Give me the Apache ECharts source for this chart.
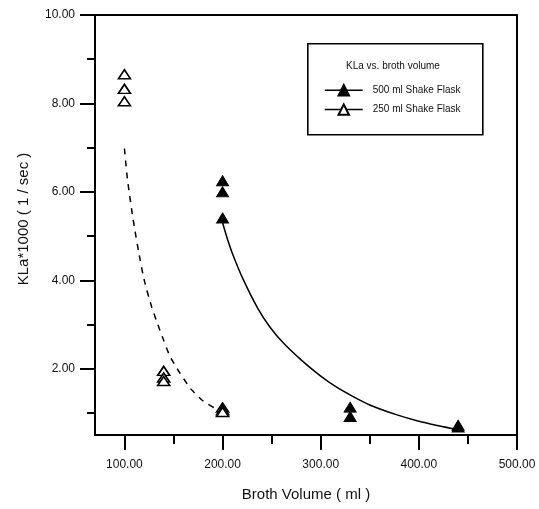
<!DOCTYPE html>
<html>
<head>
<meta charset="utf-8">
<script src="https://cdn.jsdelivr.net/npm/echarts@6/dist/echarts.min.js"></script>
<style>
html,body{margin:0;padding:0;background:#fff;}
#chart{width:539px;height:509px;}
</style>
</head>
<body>
<div id="chart"></div>
<script>
// Measured points
const flask500X = [200, 200, 200, 330, 330, 440, 440];
const flask500Y = [6.25, 6.00, 5.41, 1.13, 0.92, 0.72, 0.68];
const flask250X = [100, 100, 100, 140, 140, 140, 200, 200, 200];
const flask250Y = [8.66, 8.33, 8.05, 1.95, 1.80, 1.72, 1.12, 1.06, 1.02];

// Fitted curves
const fit500X = [200, 205, 211, 221, 236, 248, 262, 280, 299, 315, 333, 350, 377, 400, 420, 440];
const fit500Y = [5.30, 4.93, 4.55, 4.02, 3.36, 2.95, 2.58, 2.20, 1.85, 1.60, 1.37, 1.18, 0.96, 0.81, 0.71, 0.62];
const fit250X = [100, 103, 108, 110, 115, 120, 127, 134, 139, 146, 151, 156, 165, 169, 178, 182, 192, 200];
const fit250Y = [6.98, 6.30, 5.50, 5.22, 4.58, 4.02, 3.45, 3.00, 2.70, 2.30, 2.10, 1.92, 1.62, 1.51, 1.31, 1.24, 1.11, 1.05];

// Axis ticks
const xMajorTicks = [100, 200, 300, 400, 500];
const xMinorTicks = [150, 250, 350, 450];
const yMajorTicks = [2, 4, 6, 8, 10];
const yMinorTicks = [1, 3, 5, 7, 9];

const seriesNames = ['500 ml Shake Flask', '250 ml Shake Flask'];
const legendTitle = 'KLa vs. broth volume';
const xTitle = 'Broth Volume ( ml )';
const yTitle = 'KLa*1000 ( 1 / sec )';

const zip = (xs, ys) => xs.map((x, i) => [x, ys[i]]);
const FONT = '"Liberation Sans", Arial, sans-serif';

const chart = echarts.init(document.getElementById('chart'), null, {renderer: 'canvas'});
const axisLine = {show: true, lineStyle: {color: '#000', width: 2}};
const fmt = v => v.toFixed(2);

chart.setOption({
  animation: false,
  backgroundColor: '#fff',
  grid: {left: 95, right: 22, top: 15, bottom: 74, show: true, borderColor: '#000', borderWidth: 2, backgroundColor: 'transparent'},
  xAxis: [{
    type: 'value', min: 70, max: 500, position: 'bottom',
    axisLine: axisLine,
    axisTick: {show: true, length: 15, lineStyle: {color: '#000', width: 2}, customValues: xMajorTicks},
    axisLabel: {customValues: xMajorTicks, formatter: fmt, fontSize: 12, color: '#111', margin: 24, fontFamily: FONT},
    splitLine: {show: false},
    name: xTitle, nameLocation: 'middle', nameGap: 52,
    nameTextStyle: {fontSize: 15, color: '#111', fontFamily: FONT}
  }, {
    type: 'value', min: 70, max: 500, position: 'bottom',
    axisLine: {show: false},
    axisTick: {show: true, length: 9, lineStyle: {color: '#000', width: 2}, customValues: xMinorTicks},
    axisLabel: {show: false},
    splitLine: {show: false}
  }],
  yAxis: [{
    type: 'value', min: 0.5, max: 10, position: 'left',
    axisLine: axisLine,
    axisTick: {show: true, length: 15, lineStyle: {color: '#000', width: 2}, customValues: yMajorTicks},
    axisLabel: {customValues: yMajorTicks, formatter: fmt, fontSize: 12, color: '#111', margin: 20, fontFamily: FONT},
    splitLine: {show: false},
    name: yTitle, nameLocation: 'middle', nameGap: 64, nameRotate: 90,
    nameTextStyle: {fontSize: 15, color: '#111', fontFamily: FONT, padding: [0, 0, 0, 12]}
  }, {
    type: 'value', min: 0.5, max: 10, position: 'left',
    axisLine: {show: false},
    axisTick: {show: true, length: 8, lineStyle: {color: '#000', width: 2}, customValues: yMinorTicks},
    axisLabel: {show: false},
    splitLine: {show: false}
  }],
  legend: {
    data: seriesNames,
    orient: 'vertical', left: 324, top: 84, padding: 0,
    itemWidth: 38, itemHeight: 13, itemGap: 7,
    textStyle: {fontSize: 10, color: '#111', fontFamily: FONT, padding: [0, 0, 0, 5]},
    lineStyle: {color: '#000', width: 1.5, opacity: 1, type: 'solid'},
    selectedMode: false
  },
  graphic: [{
    type: 'rect', left: 307, top: 43, z: 100,
    shape: {width: 175, height: 91},
    style: {fill: 'transparent', stroke: '#000', lineWidth: 1.6}
  }, {
    type: 'text', z: 100,
    left: 346, top: 61,
    style: {text: legendTitle, font: '10px ' + FONT, fill: '#111'}
  }],
  series: [{
    name: 'fit500', type: 'line', data: zip(fit500X, fit500Y), xAxisIndex: 0, yAxisIndex: 0,
    symbol: 'none', smooth: 0.3, lineStyle: {color: '#000', width: 1.5}, z: 2
  }, {
    name: 'fit250', type: 'line', data: zip(fit250X, fit250Y), xAxisIndex: 0, yAxisIndex: 0,
    symbol: 'none', smooth: 0.3, lineStyle: {color: '#000', width: 1.5, type: [6, 6]}, z: 2
  }, {
    name: seriesNames[0], type: 'line', data: zip(flask500X, flask500Y), xAxisIndex: 0, yAxisIndex: 0,
    symbol: 'triangle', symbolSize: [12, 10], showSymbol: true,
    lineStyle: {width: 0, opacity: 0},
    itemStyle: {color: '#000', borderColor: '#000', borderWidth: 1}, z: 3
  }, {
    name: seriesNames[1], type: 'line', data: zip(flask250X, flask250Y), xAxisIndex: 0, yAxisIndex: 0,
    symbol: 'triangle', symbolSize: [12, 9], showSymbol: true,
    lineStyle: {width: 0, opacity: 0},
    itemStyle: {color: '#fff', borderColor: '#000', borderWidth: 1.6}, z: 3
  }]
});
</script>
</body>
</html>
